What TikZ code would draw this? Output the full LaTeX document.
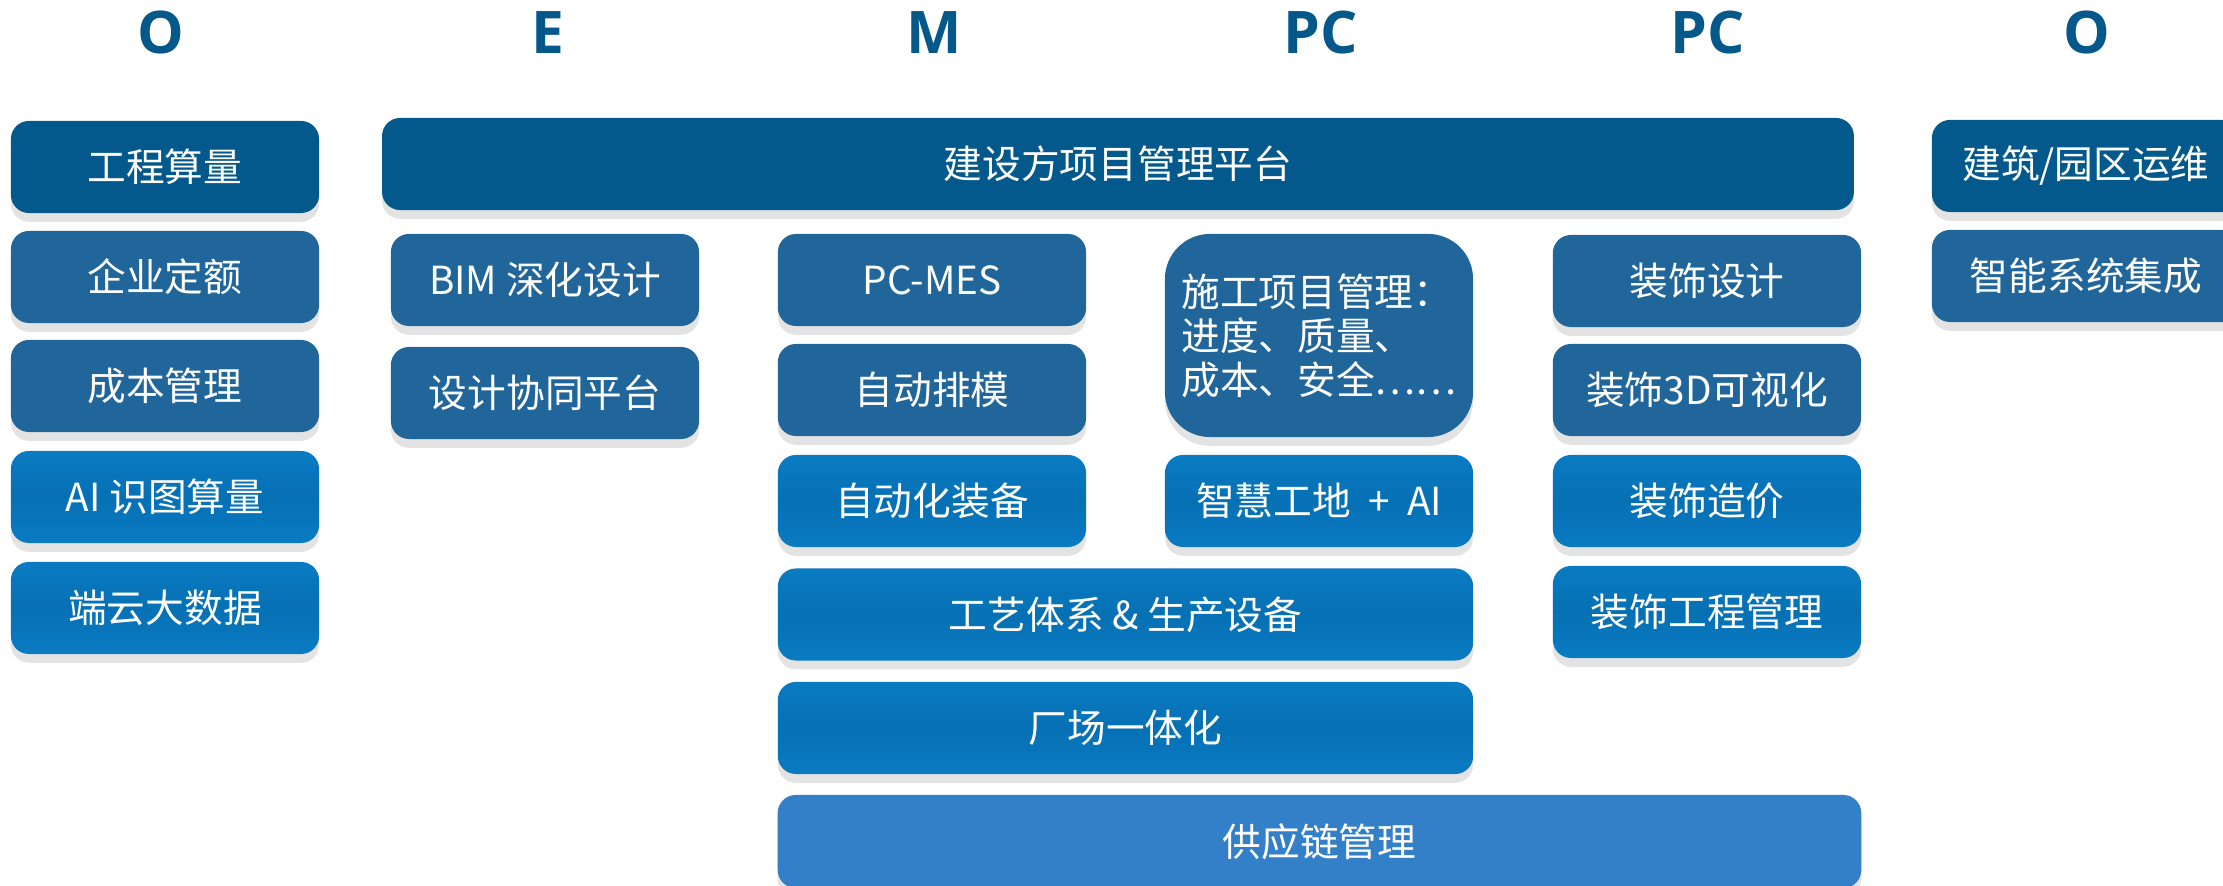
\documentclass[tikz,border=0pt]{standalone}
\usepackage{fontspec}
\setmainfont{Noto Sans CJK SC}
\newfontfamily\hdrfont{Open Sans}
\usepackage{tikz}
\usetikzlibrary{shadows}

\definecolor{darkblue}{HTML}{03588C}
\definecolor{midblue}{HTML}{21669B}
\definecolor{brightblue}{HTML}{0A7BC2}
\definecolor{brightmid}{HTML}{0670B4}
\definecolor{supplyblue}{HTML}{3380C8}
\definecolor{hdrblue}{HTML}{04588A}

\begin{document}
\begin{tikzpicture}[x=0.01cm, y=-0.01cm,
    box/.style={rectangle, rounded corners=0.18cm, minimum width=3.08cm, minimum height=0.92cm,
        inner sep=0pt, text=white, font=\fontsize{11}{12.5}\selectfont,
        drop shadow={shadow xshift=0pt, shadow yshift=-2.5pt, opacity=0.22}},
    dark/.style={box, fill=darkblue},
    mid/.style={box, fill=midblue},
    bright/.style={box, top color=brightblue, bottom color=brightblue, middle color=brightmid},
    supply/.style={box, fill=supplyblue},
    hdr/.style={text=hdrblue, font=\hdrfont\bfseries\fontsize{16.7}{20}\selectfont}]

        \useasboundingbox (0,0) rectangle (2223,886);

        % column heads
        \node[hdr] (hO) at (161,33) {O};
        \node[hdr] (hE) at (548,33) {E};
        \node[hdr] (hM) at (934,33) {M};
        \node[hdr] (hPC) at (1321,33) {PC};
        \node[hdr] (hPCb) at (1708,33) {PC};
        \node[hdr] (hOb) at (2087,33) {O};

        % O
        \node[dark] (gcsl) at (165,167) {工程算量};
        \node[mid] (qyde) at (165,277) {企业定额};
        \node[mid] (cbgl) at (165,386) {成本管理};
        \node[bright] (aisl) at (165,497) {AI 识图算量};
        \node[bright] (dysj) at (165,608) {端云大数据};

        % platform over E, M, PC, PC
        \node[dark, minimum width=14.71cm] (jsf) at (1118,164) {建设方项目管理平台};

        % E
        \node[mid] (bim) at (545,280) {BIM 深化设计};
        \node[mid] (sjxt) at (545,393) {设计协同平台};

        % M
        \node[mid] (pcmes) at (932,280) {PC-MES};
        \node[mid] (zdpm) at (932,390) {自动排模};
        \node[bright] (zdzb) at (932,501) {自动化装备};

        % PC
        \node[mid, rounded corners=0.45cm, minimum height=2.03cm, align=left] (sgxm) at (1319,335.5)
            {施工项目管理：\\进度、质量、\\成本、安全……};
        \node[bright] (zhgd) at (1319,501) {智慧工地 ~+~ AI};

        \node[bright, minimum width=6.95cm] (gytx) at (1125.5,614.5) {工艺体系 \& 生产设备};
        \node[bright, minimum width=6.95cm] (ccyt) at (1125.5,728) {厂场一体化};
        \node[supply, minimum width=10.83cm, minimum height=0.93cm] (gyl) at (1319.5,841.5) {供应链管理};

        % PC (decoration)
        \node[mid] (zssj) at (1707,281) {装饰设计};
        \node[mid] (zs3d) at (1707,390) {装饰3D可视化};
        \node[bright] (zszj) at (1707,501) {装饰造价};
        \node[bright] (zsgc) at (1707,612) {装饰工程管理};

        % O (operation)
        \node[dark] (jzyw) at (2086,166) {建筑/园区运维};
        \node[mid] (znxt) at (2086,276) {智能系统集成};

    \end{tikzpicture}
\end{document}
